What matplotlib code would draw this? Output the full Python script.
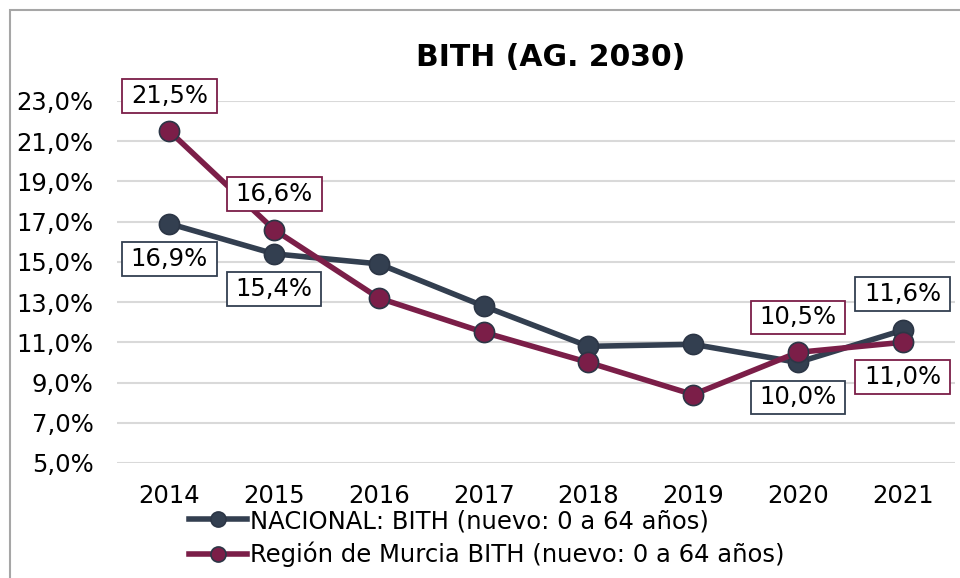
import matplotlib.pyplot as plt
from matplotlib.patches import Rectangle
from matplotlib.path import Path

plt.rcParams['font.family'] = ['DejaVu Sans']

years = ['2014', '2015', '2016', '2017', '2018', '2019', '2020', '2021']
nacional = [16.9, 15.4, 14.9, 12.8, 10.8, 10.9, 10.0, 11.6]
murcia = [21.5, 16.6, 13.2, 11.5, 10.0, 8.4, 10.5, 11.0]

# which points get a value box: (index, offset in px, +up / -down)
nac_labels = [(0, -35), (1, -35), (6, -35), (7, 36)]
mur_labels = [(0, 35), (1, 36), (6, 35), (7, -35)]

navy = '#333F50'
maroon = '#7B1E48'
edge = '#2C3646'


def label_box(x0, y0, width, height, mutation_size):
    # rectangle with more room left/right than top/bottom
    px = 0.36 * mutation_size
    py = 0.2 * mutation_size
    x0, y0 = x0 - px, y0 - py
    x1, y1 = x0 + width + 2 * px, y0 + height + 2 * py
    return Path([(x0, y0), (x1, y0), (x1, y1), (x0, y1), (x0, y0)],
                closed=True)


fig = plt.figure(figsize=(9.6, 5.78), dpi=100)
ax = fig.add_axes([0.1219, 0.199, 0.8729, 0.6263])

# outer chart frame, cut off at right and bottom
fig.patches.append(Rectangle((10 / 960, -0.1), 1.2, 1 - 10 / 578 + 0.1,
                             transform=fig.transFigure, fill=False,
                             edgecolor='#A6A6A6', linewidth=1.5))

x = range(len(years))
ax.plot(x, nacional, color=navy, lw=4, marker='o', ms=14.5,
        mfc=navy, mec=edge, mew=1.2, zorder=3,
        label='NACIONAL: BITH (nuevo: 0 a 64 años)')
ax.plot(x, murcia, color=maroon, lw=4, marker='o', ms=14.5,
        mfc=maroon, mec=edge, mew=1.2, zorder=3,
        label='Región de Murcia BITH (nuevo: 0 a 64 años)')


def put_labels(vals, spots, col):
    for i, off in spots:
        ax.annotate(f'{vals[i]:.1f}%'.replace('.', ','), (i, vals[i]),
                    xytext=(0, off), textcoords='offset pixels',
                    ha='center', va='center', fontsize=17.5, zorder=5,
                    bbox=dict(boxstyle=label_box, fc='white',
                              ec=col, lw=1.3))


put_labels(nacional, nac_labels, navy)
put_labels(murcia, mur_labels, maroon)

ax.set_xlim(-0.5, len(years) - 0.5)
ax.set_ylim(5, 23)
ax.set_yticks(range(5, 24, 2))
ax.set_yticklabels([f'{v},0%' for v in range(5, 24, 2)], fontsize=17.5)
ax.set_xticks(list(x))
ax.set_xticklabels(years, fontsize=17.5)
ax.tick_params(axis='y', length=0, pad=17)
ax.tick_params(axis='x', length=0, pad=15)
ax.grid(axis='y', color='#D9D9D9', lw=1.5)
ax.set_axisbelow(True)
for s in ax.spines.values():
    s.set_visible(False)

fig.text(551 / 960, 1 - 58 / 578, 'BITH (AG. 2030)', ha='center',
         va='center', fontsize=21.5, fontweight='bold')

leg = ax.legend(loc='upper left', bbox_to_anchor=(189 / 960, 1 - 509 / 578),
                bbox_transform=fig.transFigure, frameon=False, fontsize=17.5,
                handlelength=2.4, handletextpad=0.1, labelspacing=0.36,
                borderaxespad=0, borderpad=0, markerscale=0.75)

fig.savefig('out.png', dpi=100)
